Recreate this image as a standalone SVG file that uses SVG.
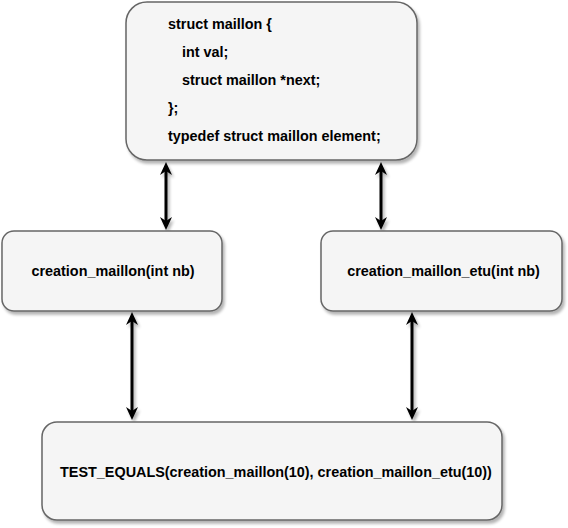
<svg xmlns="http://www.w3.org/2000/svg" width="568" height="528" viewBox="0 0 568 528">
<defs>
<filter id="sh" x="-10%" y="-10%" width="130%" height="130%">
<feGaussianBlur in="SourceAlpha" stdDeviation="1.5"/>
<feOffset dx="2" dy="3" result="b"/>
<feComponentTransfer><feFuncA type="linear" slope="0.3"/></feComponentTransfer>
<feMerge><feMergeNode/><feMergeNode in="SourceGraphic"/></feMerge>
</filter>
<marker id="ah" viewBox="0 0 13 12" refX="9" refY="6" markerWidth="13" markerHeight="12" orient="auto-start-reverse" markerUnits="userSpaceOnUse">
<path d="M0,0 L13,6 L0,12 L4,6 z" fill="#000"/>
</marker>
</defs>
<style>
.box{fill:#f5f5f5;stroke:#666666;stroke-width:1.5}
.t{font-family:"Liberation Sans",Arial,sans-serif;font-size:14.4px;font-weight:bold;fill:#000}
.c{stroke:#000;stroke-width:3;fill:none;marker-start:url(#ah);marker-end:url(#ah)}
</style>
<rect width="568" height="528" fill="#fff"/>
<g id="connectors" filter="url(#sh)">
<line class="c" x1="166" y1="166" x2="166" y2="226"/>
<line class="c" x1="381" y1="166" x2="381" y2="226"/>
<line class="c" x1="132" y1="316" x2="132" y2="416"/>
<line class="c" x1="412" y1="316" x2="412" y2="416"/>
</g>
<g id="struct">
<rect class="box" x="126" y="2" width="291" height="158" rx="21" filter="url(#sh)"/>
<text class="t" x="168" y="29">struct maillon {</text>
<text class="t" x="182" y="57">int val;</text>
<text class="t" x="182" y="85">struct maillon *next;</text>
<text class="t" x="168" y="113">};</text>
<text class="t" x="168" y="141">typedef struct maillon element;</text>
</g>
<g id="creation_maillon">
<rect class="box" x="2" y="231" width="220" height="80" rx="12" filter="url(#sh)"/>
<text class="t" x="113" y="276" text-anchor="middle">creation_maillon(int nb)</text>
</g>
<g id="creation_maillon_etu">
<rect class="box" x="321" y="231" width="241" height="80" rx="12" filter="url(#sh)"/>
<text class="t" x="443.5" y="276" text-anchor="middle">creation_maillon_etu(int nb)</text>
</g>
<g id="test_equals">
<rect class="box" x="42" y="422" width="460" height="98" rx="15" filter="url(#sh)"/>
<text class="t" x="276" y="477" text-anchor="middle">TEST_EQUALS(creation_maillon(10), creation_maillon_etu(10))</text>
</g>
</svg>
